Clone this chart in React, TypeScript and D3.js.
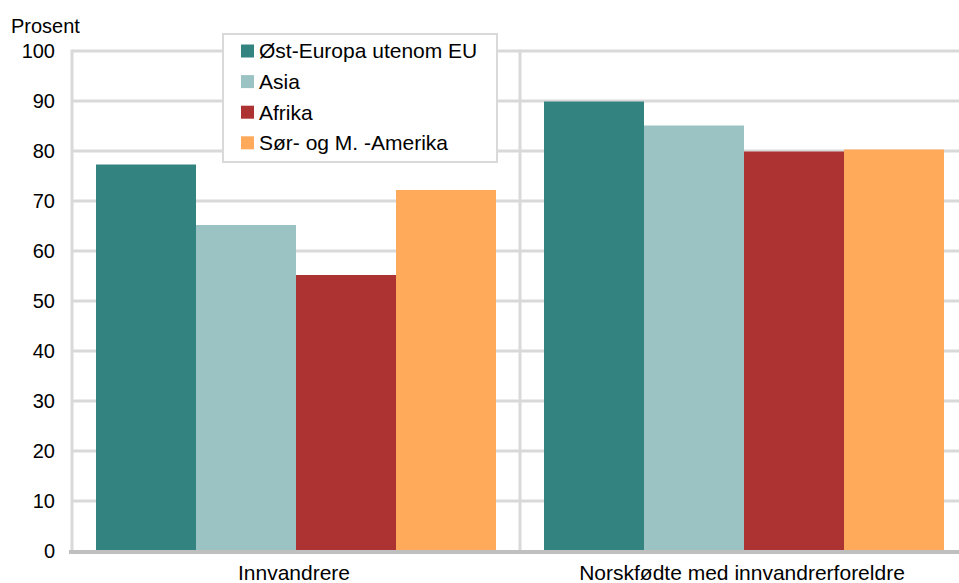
import React from "react";
import * as d3 from "d3";

const categories = ["Innvandrere", "Norskfødte med innvandrerforeldre"];
const seriesNames = ["Øst-Europa utenom EU", "Asia", "Afrika", "Sør- og M. -Amerika"];
const seriesColors = ["#338481", "#9CC3C3", "#AD3333", "#FFAA5A"];
const valuesInnvandrere = [77.3, 65.2, 55.2, 72.2];
const valuesNorskfodte = [89.9, 85.1, 79.9, 80.3];
const yTicks = [0, 10, 20, 30, 40, 50, 60, 70, 80, 90, 100];

const W = 959;
const H = 583;
const FONT = "'Liberation Sans', Arial, sans-serif";

export default function App() {
  const left = 72;
  const right = 968;
  const top = 51;
  const bottom = 551;
  const x0 = d3.scaleBand<string>().domain(categories).range([left, right]).paddingInner(0).paddingOuter(0);
  const inner = d3.scaleBand<string>().domain(seriesNames).range([24, x0.bandwidth() - 24]).padding(0);
  const y = d3.scaleLinear().domain([0, 100]).range([bottom, top]);
  const data = [valuesInnvandrere, valuesNorskfodte];

  return (
    <svg width={W} height={H} style={{ position: "absolute", left: 0, top: 0, display: "block" }} fontFamily={FONT}>
      <rect x={0} y={0} width={W} height={H} fill="#fff" />
      {yTicks.filter((t) => t > 0).map((t) => (
        <line key={t} x1={left} x2={W} y1={y(t)} y2={y(t)} stroke="#d9d9d9" strokeWidth={3} />
      ))}
      {[left, x0(categories[1])!].map((xv, i) => (
        <line key={i} x1={xv} x2={xv} y1={top - 1.5} y2={bottom} stroke="#d9d9d9" strokeWidth={3} />
      ))}
      {data.map((vals, ci) => (
        <g key={ci} transform={`translate(${x0(categories[ci])},0)`}>
          {vals.map((v, si) => (
            <rect key={si} x={inner(seriesNames[si])} y={y(v)} width={inner.bandwidth()} height={y(0) - y(v)} fill={seriesColors[si]} />
          ))}
        </g>
      ))}
      <line x1={left - 3} x2={W} y1={bottom + 1} y2={bottom + 1} stroke="#bfbfbf" strokeWidth={4} />
      {yTicks.map((t) => (
        <text key={t} x={55} y={y(t)} dy="0.35em" textAnchor="end" fontSize={20} fill="#000">{t}</text>
      ))}
      <text x={11} y={33} fontSize={20} fill="#000">Prosent</text>
      {categories.map((c) => (
        <text key={c} x={x0(c)! + x0.bandwidth() / 2 - 2} y={580} textAnchor="middle" fontSize={21} fill="#000">{c}</text>
      ))}
      <rect x={223} y={34} width={274} height={128} fill="#fff" stroke="#d9d9d9" strokeWidth={2} />
      {seriesNames.map((s, i) => (
        <g key={s}>
          <rect x={241} y={44.5 + i * 30.6} width={13} height={13} fill={seriesColors[i]} />
          <text x={259} y={51 + i * 30.6} dy="0.35em" fontSize={21} fill="#000">{s}</text>
        </g>
      ))}
    </svg>
  );
}
